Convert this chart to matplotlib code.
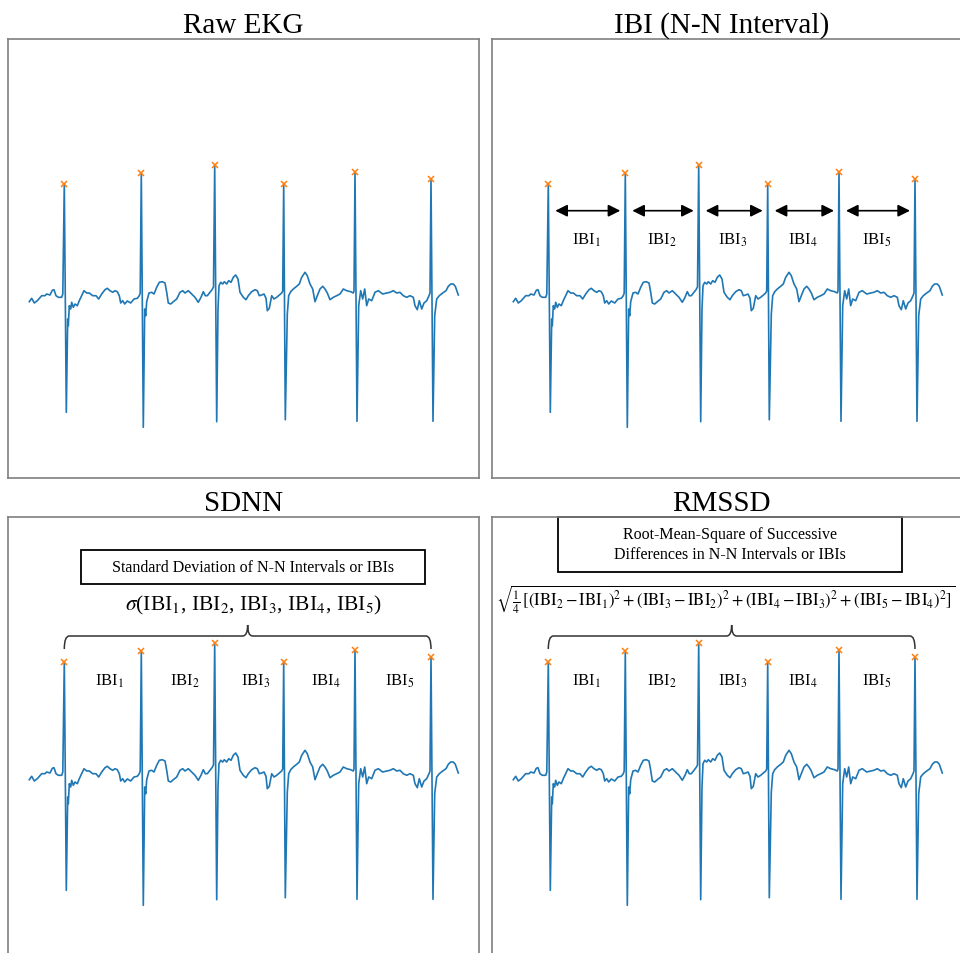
import matplotlib
matplotlib.use("Agg")
from matplotlib import pyplot as plt
from matplotlib.path import Path
from matplotlib.patches import PathPatch, Rectangle

plt.rcParams['font.family'] = ['Liberation Serif', 'DejaVu Serif']
plt.rcParams['mathtext.fontset'] = 'stix'

# EKG trace (time in s, amplitude in mV)
ekg_t = [-0.007, 0.017, 0.043, 0.073, 0.117, 0.15, 0.167, 0.2, 0.223, 0.24, 0.26, 0.283, 0.317, 0.328,
         0.343, 0.363, 0.377, 0.383, 0.393, 0.407, 0.417, 0.433, 0.45, 0.473, 0.493, 0.517, 0.54, 0.567,
         0.593, 0.627, 0.66, 0.687, 0.717, 0.75, 0.773, 0.8, 0.827, 0.85, 0.873, 0.893, 0.907, 0.927,
         0.947, 0.973, 1.007, 1.04, 1.073, 1.093, 1.102,
         1.113, 1.133, 1.147, 1.157, 1.167, 1.19, 1.217, 1.24, 1.267, 1.293, 1.323, 1.35, 1.367, 1.383,
         1.407, 1.433, 1.467, 1.5, 1.527, 1.55, 1.583, 1.617, 1.65, 1.683, 1.71, 1.733, 1.753, 1.773,
         1.8, 1.82, 1.835,
         1.847, 1.867, 1.88, 1.89, 1.907, 1.927, 1.943, 1.967, 1.987, 2.01, 2.033, 2.057, 2.08, 2.1,
         2.133, 2.16, 2.183, 2.217, 2.25, 2.273, 2.293, 2.317, 2.34, 2.36, 2.373, 2.393, 2.417, 2.44,
         2.467, 2.493, 2.517, 2.527,
         2.537, 2.553, 2.573, 2.587, 2.607, 2.633, 2.667, 2.693, 2.717, 2.75, 2.773, 2.8, 2.827, 2.85,
         2.873, 2.9, 2.927, 2.95, 2.973, 3.0, 3.033, 3.067, 3.1, 3.133, 3.167, 3.207, 3.233, 3.24,
         3.25, 3.27, 3.287, 3.307, 3.327, 3.347, 3.367, 3.387, 3.417, 3.45, 3.483, 3.527, 3.567, 3.6,
         3.633, 3.667, 3.7, 3.733, 3.767, 3.8, 3.833, 3.85, 3.873, 3.893, 3.917, 3.94, 3.967, 3.99, 4.0,
         4.01, 4.03, 4.047, 4.067, 4.093, 4.127, 4.16, 4.183, 4.207, 4.233, 4.253, 4.283]
ekg_mv = [-0.047, -0.013, -0.06, -0.037, 0.013, 0.013, 0.03, 0.02, 0.067, 0.073, 0.013, -0.003, -0.003, 0.03,
          1.133, -1.153, -0.22, -0.287, -0.087, -0.12, -0.053, -0.103, -0.07, -0.087, -0.037, 0.013, 0.063, 0.04,
          0.04, 0.013, 0.013, -0.02, 0.03, 0.073, 0.087, 0.063, 0.047, 0.063, 0.053, 0.013, -0.06, -0.037,
          -0.07, -0.04, -0.06, -0.02, -0.013, 0.013, 0.04,
          1.24, -1.303, -0.12, -0.187, -0.047, 0.04, 0.047, 0.03, 0.097, 0.147, 0.153, 0.14, 0.047, -0.06,
          -0.07, -0.047, -0.02, 0.047, 0.063, 0.04, 0.063, 0.03, -0.003, -0.053, -0.003, 0.053, 0.013, 0.013,
          0.047, 0.073, 0.1,
          1.32, -1.247, -0.12, 0.113, 0.147, 0.13, 0.153, 0.13, 0.163, 0.147, 0.197, 0.22, 0.18, 0.047,
          -0.003, -0.027, 0.013, 0.053, 0.073, 0.063, 0.013, 0.02, 0.03, -0.013, -0.137, -0.113, 0.013, -0.02,
          -0.003, 0.02, 0.04, 0.06,
          1.13, -1.227, -0.17, 0.013, 0.053, 0.08, 0.107, 0.13, 0.197, 0.247, 0.213, 0.13, 0.08, -0.047,
          0.013, 0.08, 0.107, 0.08, 0.04, -0.027, -0.003, 0.013, 0.03, 0.08, 0.063, 0.053, 0.04, 0.06,
          1.253, -1.243, -0.087, 0.063, -0.02, 0.08, -0.087, -0.02, -0.037, 0.047, 0.063, 0.03, 0.04, 0.047,
          0.063, 0.04, 0.047, 0.013, -0.003, 0.013, -0.003, -0.087, -0.127, -0.037, -0.12, -0.06, -0.037, 0.013, 0.04,
          1.18, -1.243, -0.187, -0.02, 0.013, 0.04, 0.063, 0.107, 0.13, 0.13, 0.107, 0.02]

# detected R peaks
peak_t = [0.343, 1.113, 1.847, 2.537, 3.25, 4.01]
peak_mv = [1.133, 1.24, 1.32, 1.13, 1.253, 1.18]

titles = ["Raw EKG", "IBI (N-N Interval)", "SDNN", "RMSSD"]
ibi_labels = ["IBI$_1$", "IBI$_2$", "IBI$_3$", "IBI$_4$", "IBI$_5$"]

W, H = 960, 954
fig = plt.figure(figsize=(W / 100, H / 100), dpi=100)


def panel(left, top, title, tx=0.5):
    ax = fig.add_axes([left / W, 1 - (top + 439) / H, 471 / W, 439 / H])
    ax.plot(ekg_t, ekg_mv, color='#1f77b4', lw=1.2)
    ax.plot(peak_t, peak_mv, 'x', color='#ff7f0e', ms=4.5, mew=1.1)
    ax.set_xlim(-0.22, 4.49)
    ax.set_ylim(-1.81, 2.58)
    ax.set_xticks([])
    ax.set_yticks([])
    for s in ax.spines.values():
        s.set_color('#7f7f7f')
        s.set_linewidth(1.2)
    ax.set_title(title, fontsize=21, pad=5, x=tx)
    return ax


def brace(ax):
    x0, x1 = peak_t[0], peak_t[-1]
    xm = (x0 + x1) / 2
    r = 0.05
    ye, yh, yt = 1.26, 1.39, 1.50
    verts = [(x0, ye), (x0, yh), (x0 + r, yh), (xm - r, yh), (xm, yh), (xm, yt),
             (xm, yh), (xm + r, yh), (x1 - r, yh), (x1, yh), (x1, ye)]
    codes = [Path.MOVETO, Path.CURVE3, Path.CURVE3, Path.LINETO, Path.CURVE3, Path.CURVE3,
             Path.CURVE3, Path.CURVE3, Path.LINETO, Path.CURVE3, Path.CURVE3]
    ax.add_patch(PathPatch(Path(verts, codes), fc='none', ec='#333333', lw=1.1, clip_on=False))


ax1 = panel(8, 40, titles[0])
ax2 = panel(492, 40, titles[1], tx=0.488)
ax3 = panel(8, 518, titles[2])
ax4 = panel(492, 518, titles[3], tx=0.488)

# IBI arrows
for i in range(5):
    ax2.annotate('', xy=(peak_t[i + 1] - 0.05, 0.863), xytext=(peak_t[i] + 0.07, 0.863),
                 arrowprops=dict(arrowstyle='<|-|>', color='black', lw=1.2,
                                 mutation_scale=18, shrinkA=0, shrinkB=0))
    mid = (peak_t[i] + peak_t[i + 1]) / 2
    ax2.text(mid, 0.58, ibi_labels[i], fontsize=12, ha='center', va='center')
    ax3.text(mid + 0.07, 0.95, ibi_labels[i], fontsize=12, ha='center', va='center')
    ax4.text(mid, 0.95, ibi_labels[i], fontsize=12, ha='center', va='center')

# SDNN
ax3.add_patch(Rectangle((0.51, 1.91), 3.44, 0.34, fc='white', ec='black', lw=1.3, clip_on=False))
ax3.text(2.23, 2.08, "Standard Deviation of N-N Intervals or IBIs", fontsize=11.5,
         ha='center', va='center')
ax3.text(2.23, 1.71, r"$\sigma$(IBI$_1$, IBI$_2$, IBI$_3$, IBI$_4$, IBI$_5$)", fontsize=15.5,
         ha='center', va='center')
brace(ax3)

# RMSSD
ax4.add_patch(Rectangle((0.44, 2.03), 3.44, 0.55, fc='white', ec='black', lw=1.3, clip_on=False))
ax4.text(2.16, 2.31, "Root-Mean-Square of Successive\nDifferences in N-N Intervals or IBIs",
         fontsize=11.5, ha='center', va='center', linespacing=1.3)
ax4.text(2.12, 1.76,
         r"$\sqrt{\frac{1}{4}\,[(\mathrm{IBI}_2 - \mathrm{IBI}_1)^2 + (\mathrm{IBI}_3 - \mathrm{IBI}_2)^2"
         r" + (\mathrm{IBI}_4 - \mathrm{IBI}_3)^2 + (\mathrm{IBI}_5 - \mathrm{IBI}_4)^2]}$",
         fontsize=12, ha='center', va='center', clip_on=False)
brace(ax4)

fig.savefig("out.png", dpi=100)
